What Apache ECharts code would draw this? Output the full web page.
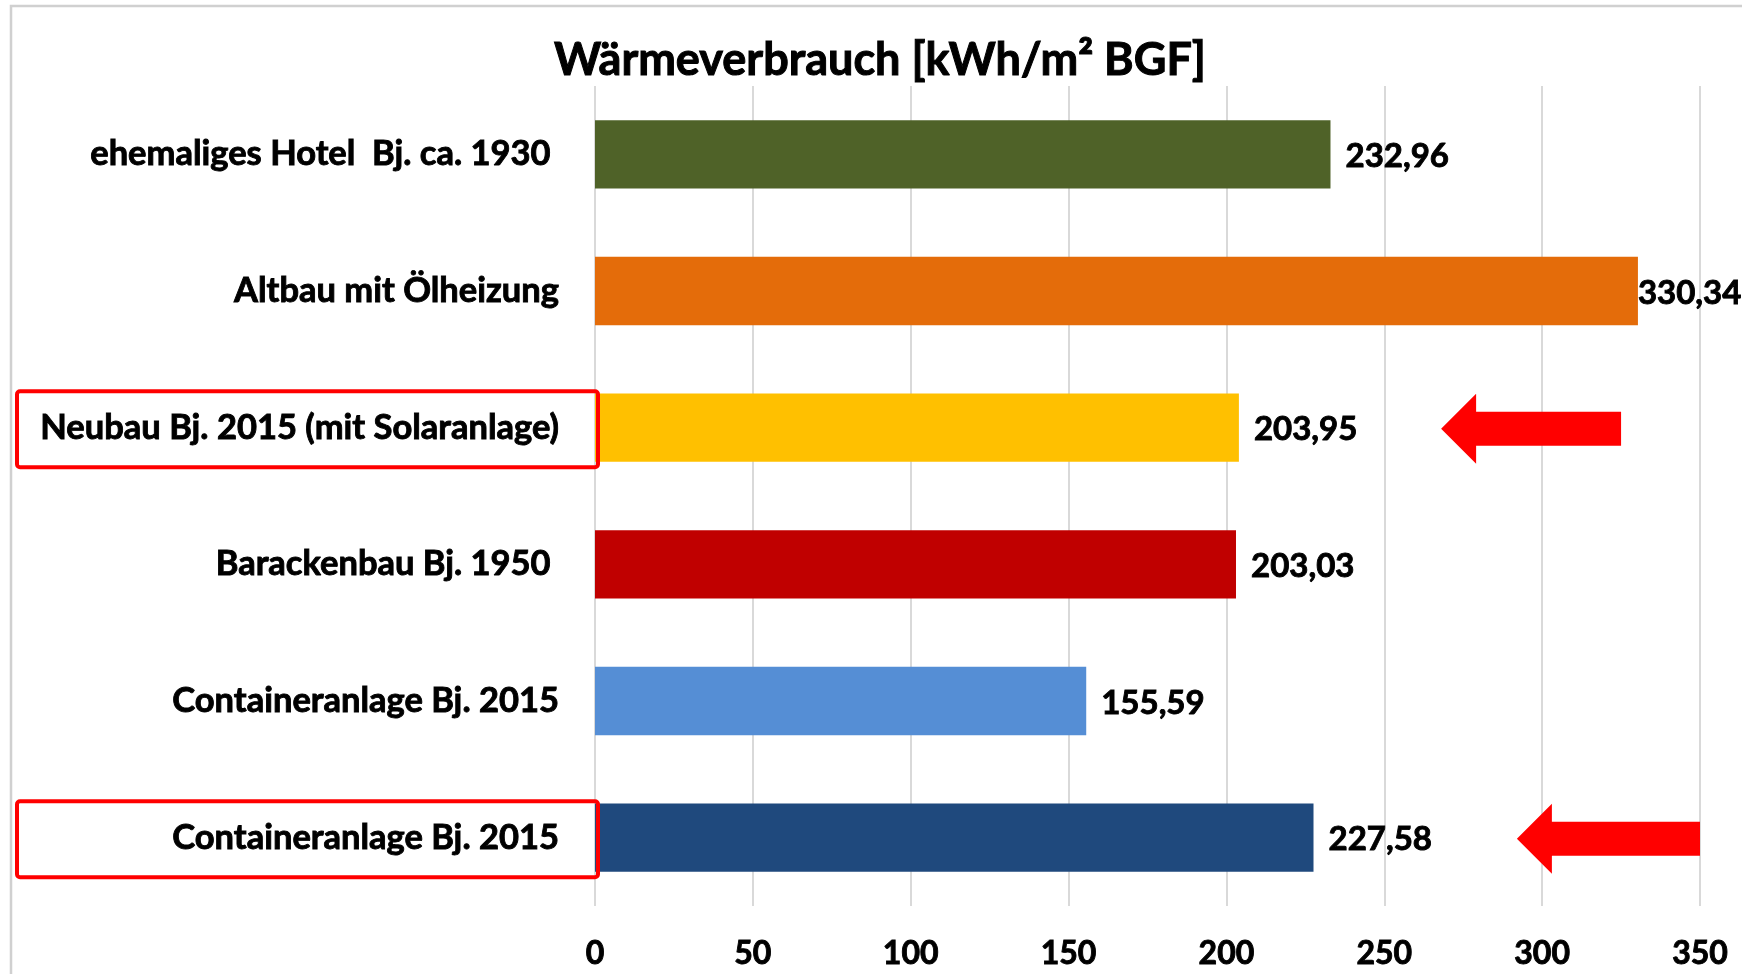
<!DOCTYPE html>
<html><head><meta charset="utf-8">
<script src="https://cdn.jsdelivr.net/npm/echarts@6/dist/echarts.min.js"></script>
<style>html,body{margin:0;padding:0;background:#fff}#c{width:1742px;height:974px}</style>
</head><body><div id="c"></div>
<script>
const titleText = 'Wärmeverbrauch [kWh/m² BGF]';
const categories = ['ehemaliges Hotel  Bj. ca. 1930 ', 'Altbau mit Ölheizung', 'Neubau Bj. 2015 (mit Solaranlage)', 'Barackenbau Bj. 1950 ', 'Containeranlage Bj. 2015', 'Containeranlage Bj. 2015'];
const values = [232.96, 330.34, 203.95, 203.03, 155.59, 227.58];
const barColors = ['#4F6228', '#E46C0A', '#FFC000', '#C00000', '#558ED5', '#1F497D'];
const xTicks = [0, 50, 100, 150, 200, 250, 300, 350];
const highlightedRows = [2, 5];
const arrowTips = [268, 292];
const arrowEnds = [325, 350];

const FONT = 'Lato';
const BOLD = {textBorderColor: '#000', textBorderWidth: 0.9};
const fmt = v => v.toFixed(2).replace('.', ',');

const chart = echarts.init(document.getElementById('c'), null, {renderer: 'canvas'});
chart.setOption({
  animation: false,
  backgroundColor: '#fff',
  graphic: [
    {type: 'rect', z: -1, silent: true, shape: {x: 11, y: 6, width: 2000, height: 2000},
     style: {fill: 'none', stroke: '#D0D0D0', lineWidth: 2.5}},
    {type: 'text', x: 880, y: 60, silent: true,
     style: Object.assign({text: titleText, fontFamily: FONT, fontWeight: 'bold', fontSize: 45, fill: '#000',
             align: 'center', verticalAlign: 'middle'}, {stroke: '#000', lineWidth: 1})}
  ],
  grid: {left: 595, right: 42, top: 86, bottom: 68, containLabel: false, outerBoundsMode: 'none'},
  xAxis: {
    type: 'value', min: xTicks[0], max: xTicks[xTicks.length - 1], interval: xTicks[1] - xTicks[0],
    axisLine: {show: false}, axisTick: {show: false},
    splitLine: {show: true, lineStyle: {color: '#D9D9D9', width: 2}},
    axisLabel: Object.assign({margin: 32, color: '#000', fontFamily: FONT, fontWeight: 'bold', fontSize: 32}, BOLD)
  },
  yAxis: {
    type: 'category', data: categories, inverse: true,
    axisLine: {show: false}, axisTick: {show: false}, splitLine: {show: false},
    axisLabel: Object.assign({margin: 36, color: '#000', fontFamily: FONT, fontWeight: 'bold', fontSize: 34.5, interval: 0}, BOLD)
  },
  series: [
    {
      type: 'bar', barCategoryGap: '50%',
      data: values.map((v, i) => ({
        value: v,
        itemStyle: {color: barColors[i]},
        label: i === 1 ? {distance: 0} : undefined
      })),
      label: Object.assign({show: true, position: 'right', distance: 15, offset: [0, 2], color: '#000', fontFamily: FONT,
              fontWeight: 'bold', fontSize: 33, formatter: p => fmt(p.value)}, BOLD)
    },
    {
      type: 'custom', z: 10, clip: false, silent: true,
      encode: {x: 0, y: 1},
      data: highlightedRows.map(r => [0, r]),
      renderItem: (params, api) => {
        const c = api.coord([0, api.value(1)]);
        const band = api.size([0, 1])[1];
        const h = band * 0.556;
        return {type: 'rect', shape: {x: 17, y: c[1] - h / 2 + 1.5, width: c[0] + 3 - 17, height: h, r: 3},
                style: {fill: 'none', stroke: '#FF0000', lineWidth: 4}};
      }
    },
    {
      type: 'custom', z: 10, clip: false, silent: true,
      encode: {x: [0, 1], y: 2},
      data: arrowTips.map((t, i) => [t, arrowEnds[i], highlightedRows[i]]),
      renderItem: (params, api) => {
        const tip = api.coord([api.value(0), api.value(2)]);
        const end = api.coord([api.value(1), api.value(2)]);
        const hl = 35, hh = 35, sh = 17;
        const x = tip[0], y = tip[1] + 1;
        return {type: 'polygon', shape: {points: [
          [x, y], [x + hl, y - hh], [x + hl, y - sh], [end[0], y - sh],
          [end[0], y + sh], [x + hl, y + sh], [x + hl, y + hh]]},
          style: {fill: '#FF0000'}};
      }
    }
  ]
});
</script></body></html>
